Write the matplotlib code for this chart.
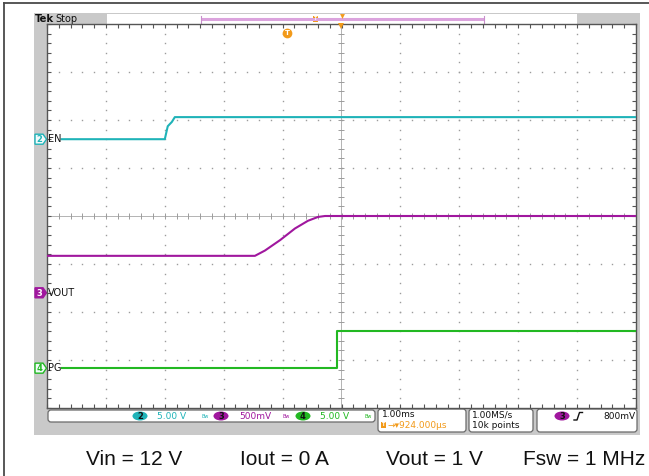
import numpy as np
import matplotlib
matplotlib.use("Agg")
import matplotlib.pyplot as plt
from matplotlib.patches import Rectangle, FancyBboxPatch, Polygon, Ellipse

# Horizontal: 1 ms/div, 10 divisions centred on the display midpoint; vertical: 8 divisions
time_per_div_ms = 1.0
n_xdiv = 10
n_ydiv = 8

# Channel 2 (EN)
en_time_ms = [-4.75, -3.00, -2.95, -2.88, -2.83, 5.00]
en_volts = [0.0, 0.0, 1.35, 1.80, 2.30, 2.30]

# Channel 3 (VOUT)
vout_time_ms = [-5.00, -1.47, -1.30, -1.04, -0.79, -0.57, -0.40, -0.28, 5.00]
vout_volts = [0.385, 0.385, 0.44, 0.55, 0.67, 0.75, 0.79, 0.80, 0.80]

# Channel 4 (PG)
pg_time_ms = [-4.75, -0.08, -0.08, 5.00]
pg_volts = [0.0, 0.0, 3.85, 3.85]

channel_names = ["EN", "VOUT", "PG"]
channel_numbers = ["2", "3", "4"]
volts_per_div = [5.0, 0.5, 5.0]
scale_labels = ["5.00 V", "500mV", "5.00 V"]
ground_div = [5.60, 2.40, 0.83]          # ground markers, divisions above bottom
colors = ["#1fb3b8", "#a0179e", "#22b822"]

trigger_pos_ms = -0.924
timebase_label = "1.00ms"
position_label = "924.000µs"
sample_rate_label = "1.00MS/s"
record_label = "10k points"
trigger_level_label = "800mV"
conditions = ["Vin = 12 V", "Iout = 0 A", "Vout = 1 V", "Fsw = 1 MHz"]

# ---------------------------------------------------------------- layout
W, H = 649, 476
L, R, T, B = 47, 636, 24, 408            # graticule box in pixels
ORANGE = "#f29a1a"
FRAME = "#4a4a4a"
SCREEN = "#c9c9c9"

fig = plt.figure(figsize=(W / 100, H / 100), dpi=100)
bg = fig.add_axes([0, 0, 1, 1])
bg.set_xlim(0, W)
bg.set_ylim(H, 0)
bg.axis("off")

# outer frame
bg.plot([4, W], [3, 3], color=FRAME, lw=1.3)
bg.plot([4, 4], [3, H], color=FRAME, lw=1.3)

# scope screen background
bg.add_patch(Rectangle((34, 13), 606, 422, facecolor=SCREEN, edgecolor="none"))

# header with record view bar
bg.add_patch(Rectangle((107, 14), 470, 10, facecolor="white", edgecolor="none"))
bg.plot([201, 484], [19, 19], color="#dba3dd", lw=2.2, solid_capstyle="butt")
for xe in (201, 484):
    bg.plot([xe, xe], [15.5, 22.5], color="#c88fcb", lw=0.8)
bg.add_patch(Rectangle((313, 16), 5, 6, facecolor=ORANGE, edgecolor="none"))
bg.text(315.5, 19, "T", color="white", fontsize=3.5, ha="center", va="center",
        fontweight="bold")
bg.plot(342, 16, marker="v", color=ORANGE, ms=3.5, mew=0)
bg.text(35, 19, "Tek", fontsize=7.2, fontweight="bold", ha="left", va="center",
        color="#111111")
bg.text(55, 19, "Stop", fontsize=7, ha="left", va="center", color="#111111")

# ---------------------------------------------------------------- graticule
ax = fig.add_axes([L / W, 1 - B / H, (R - L) / W, (B - T) / H])
ax.set_zorder(2)
ax.set_facecolor("white")
x_half = n_xdiv / 2 * time_per_div_ms
ax.set_xlim(-x_half, x_half)
ax.set_ylim(0, n_ydiv)

xs_dots = np.arange(-x_half, x_half + 1e-9, time_per_div_ms / 5)
ys_dots = np.arange(0, n_ydiv + 1e-9, 0.2)
dot = dict(ls="none", marker="s", ms=1.0, mew=0, color="#9c9c9c", zorder=1)
for gx in np.arange(-x_half + 1, x_half, time_per_div_ms):
    if abs(gx) < 1e-9:
        continue
    ax.plot(np.full_like(ys_dots, gx), ys_dots, **dot)
for gy in range(1, n_ydiv):
    if gy == n_ydiv // 2:
        continue
    ax.plot(xs_dots, np.full_like(xs_dots, gy), **dot)

ax.axhline(n_ydiv / 2, color="#b3b3b3", lw=0.7, zorder=1)
ax.axvline(0, color="#b3b3b3", lw=0.7, zorder=1)
ax.plot(xs_dots, np.full_like(xs_dots, n_ydiv / 2), ls="none", marker="|",
        ms=4, mew=0.7, color="#9c9c9c", zorder=1)
ax.plot(np.zeros_like(ys_dots), ys_dots, ls="none", marker="_",
        ms=4, mew=0.7, color="#9c9c9c", zorder=1)

ax.set_xticks(xs_dots)
ax.set_yticks(ys_dots)
ax.tick_params(direction="in", length=3, width=0.8, color="#555555",
               top=True, right=True, labelbottom=False, labelleft=False)
for sp in ax.spines.values():
    sp.set_color("#555555")
    sp.set_linewidth(1.0)

# ---------------------------------------------------------------- traces
series = [(en_time_ms, en_volts), (vout_time_ms, vout_volts), (pg_time_ms, pg_volts)]
for (t, v), g, s, c in zip(series, ground_div, volts_per_div, colors):
    ax.plot(t, g + np.asarray(v) / s, color=c, lw=1.5, zorder=3)

# trigger position icon and expansion point marker
ax.plot(trigger_pos_ms, 7.81, marker="o", ms=7, color=ORANGE, mew=0, zorder=4)
ax.text(trigger_pos_ms, 7.81, "T", color="white", fontsize=5, fontweight="bold",
        ha="center", va="center", zorder=5)
ax.plot(0, 7.96, marker="v", ms=5, color=ORANGE, mew=0, zorder=4, clip_on=False)

# channel ground markers and names on the left edge
def div_to_px(d):
    return B - d * (B - T) / n_ydiv

for name, num, g, c, filled in zip(channel_names, channel_numbers, ground_div,
                                   colors, [False, True, False]):
    yc = div_to_px(g)
    pts = [(35, yc - 5), (43, yc - 5), (46.5, yc), (43, yc + 5), (35, yc + 5)]
    bg.add_patch(Polygon(pts, closed=True, facecolor=c if filled else "#f2fbfb",
                         edgecolor=c, lw=1.0, zorder=3))
    bg.text(39.5, yc + 0.3, num, color="white" if filled else c, fontsize=6,
            fontweight="bold", ha="center", va="center", zorder=4)
    ax.text(-4.985, g, name, color="#111111", fontsize=7, ha="left",
            va="center", zorder=4)

# trigger level arrow on the right edge
bg.plot([628, 635], [232, 232], color=colors[1], lw=1.0, zorder=3)
bg.plot(630, 232, marker="<", ms=4, color=colors[1], mew=0, zorder=3)

# ---------------------------------------------------------------- status bar
bg.add_patch(FancyBboxPatch((48, 410), 327, 12, boxstyle="round,pad=0,rounding_size=3",
                            facecolor="white", edgecolor="#6a6a6a", lw=0.9))
ell_x = [140, 221, 303]
txt_x = [157, 239, 320]
bw_x = [205, 286, 368]
for ex, tx, bx, num, lab, c in zip(ell_x, txt_x, bw_x, channel_numbers,
                                   scale_labels, colors):
    bg.add_patch(Ellipse((ex, 416), 15, 9, facecolor=c, edgecolor="none"))
    bg.text(ex, 416.3, num, fontsize=6, ha="center", va="center", color="#111111",
            fontweight="bold")
    bg.text(tx, 416.3, lab, fontsize=6.5, ha="left", va="center", color=c)
    bg.text(bx, 416.3, "Bw", fontsize=3.5, ha="center", va="center", color=c)

boxes = [(378, 88), (469, 64), (537, 100)]
for bx0, bw in boxes:
    bg.add_patch(FancyBboxPatch((bx0, 409), bw, 23, boxstyle="round,pad=0,rounding_size=3",
                                facecolor="white", edgecolor="#6a6a6a", lw=0.9))
bg.text(382, 414.5, timebase_label, fontsize=6.5, ha="left", va="center",
        color="#111111")
bg.add_patch(Rectangle((381, 422), 5, 6, facecolor=ORANGE, edgecolor="none"))
bg.text(383.5, 425, "T", fontsize=3.5, ha="center", va="center", color="white",
        fontweight="bold")
bg.text(387, 425.5, "\u2192\u25BE" + position_label, fontsize=6.5, ha="left",
        va="center", color=ORANGE)
bg.text(472, 414.5, sample_rate_label, fontsize=6.5, ha="left", va="center",
        color="#111111")
bg.text(472, 425.5, record_label, fontsize=6.5, ha="left", va="center",
        color="#111111")
bg.add_patch(Ellipse((562, 416), 15, 9, facecolor=colors[1], edgecolor="none"))
bg.text(562, 416.3, channel_numbers[1], fontsize=6, ha="center", va="center",
        color="#111111", fontweight="bold")
bg.plot([574, 577, 579.5, 582.5], [420, 420, 412.5, 412.5], color="#111111", lw=1.0)
bg.text(635, 416.3, trigger_level_label, fontsize=6.5, ha="right", va="center",
        color="#111111")

# ---------------------------------------------------------------- test conditions
for x0, txt in zip([86, 240, 386, 523], conditions):
    bg.text(x0, 465, txt, fontsize=15, family="Liberation Sans", ha="left",
            va="baseline", color="#111111")

fig.savefig("out.png", dpi=100)
